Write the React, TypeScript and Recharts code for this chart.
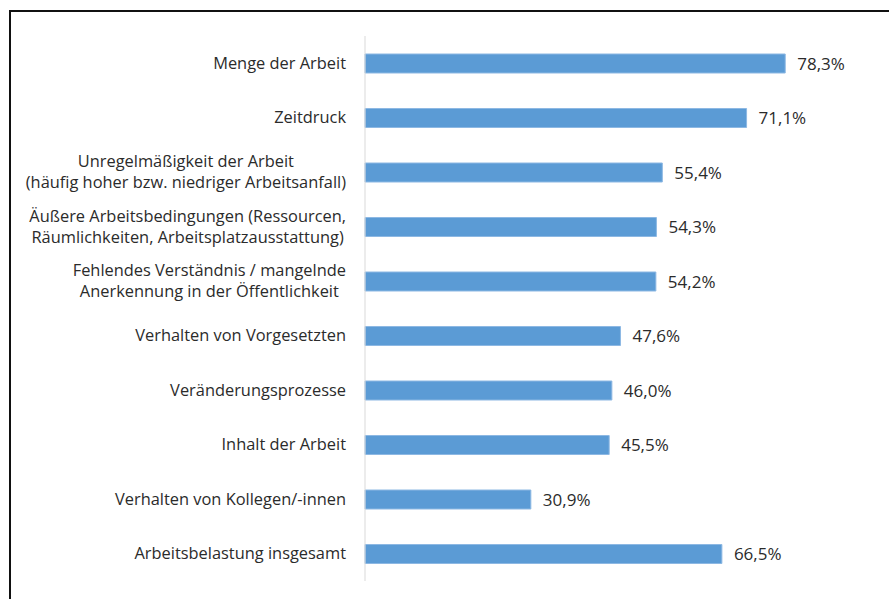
import { Bar, BarChart, LabelList, XAxis, YAxis } from "recharts";

const categories = [
  ["Menge der Arbeit"],
  ["Zeitdruck"],
  ["Unregelmäßigkeit der Arbeit", "(häufig hoher bzw. niedriger Arbeitsanfall)"],
  ["Äußere Arbeitsbedingungen (Ressourcen,", "Räumlichkeiten, Arbeitsplatzausstattung)"],
  ["Fehlendes Verständnis / mangelnde", "Anerkennung in der Öffentlichkeit"],
  ["Verhalten von Vorgesetzten"],
  ["Veränderungsprozesse"],
  ["Inhalt der Arbeit"],
  ["Verhalten von Kollegen/-innen"],
  ["Arbeitsbelastung insgesamt"],
];

const shares = [78.3, 71.1, 55.4, 54.3, 54.2, 47.6, 46.0, 45.5, 30.9, 66.5];

const data = categories.map((lines, i) => ({
  name: lines.join("\n"),
  value: shares[i],
}));

const FONT = "'Open Sans', Lato, sans-serif";
const FONT_SIZE = 16.4;
const VALUE_SIZE = 17;
const TEXT = "#2b2b2b";

let ctx: CanvasRenderingContext2D | null = null;
function textWidth(s: string) {
  if (!ctx) ctx = document.createElement("canvas").getContext("2d");
  if (!ctx) return s.length * FONT_SIZE * 0.5;
  ctx.font = `${FONT_SIZE}px ${FONT}`;
  return ctx.measureText(s).width;
}

function CategoryTick({ x, y, payload }: any) {
  const lines: string[] = String(payload.value).split("\n");
  const right = x - 11;
  const block = Math.max(...lines.map(textWidth));
  const cx = right - block / 2;
  const lineH = 21;
  const first = -((lines.length - 1) * lineH) / 2;
  return (
    <text
      x={cx}
      y={y}
      textAnchor="middle"
      fill={TEXT}
      fontSize={FONT_SIZE}
      fontFamily={FONT}
    >
      {lines.map((l, i) => (
        <tspan key={i} x={cx} y={y + first + i * lineH} dy="0.35em">
          {l}
        </tspan>
      ))}
    </text>
  );
}

export default function App() {
  return (
    <div
      style={{
        position: "absolute",
        left: 0,
        top: 0,
        width: 889,
        height: 599,
        overflow: "hidden",
        background: "#fff",
      }}
    >
      <div
        style={{
          position: "absolute",
          left: 9,
          top: 10,
          width: 1000,
          height: 1000,
          border: "2px solid #111",
        }}
      />
      <div style={{ position: "absolute", left: 0, top: 0 }}>
        <BarChart
          width={889}
          height={599}
          data={data}
          layout="vertical"
          margin={{ top: 36, right: 41, bottom: 18, left: 0 }}
        >
          <XAxis type="number" domain={[0, 90]} hide />
          <YAxis
            type="category"
            dataKey="name"
            width={365}
            axisLine={{ stroke: "#d9d9d9", strokeWidth: 1 }}
            tickLine={false}
            interval={0}
            tick={<CategoryTick />}
          />
          <Bar
            dataKey="value"
            fill="#5b9bd5"
            stroke="#8db8e3"
            strokeWidth={1}
            barSize={19}
            isAnimationActive={false}
          >
            <LabelList
              dataKey="value"
              position="right"
              offset={12}
              fill={TEXT}
              fontSize={VALUE_SIZE}
              fontFamily={FONT}
              formatter={(v: any) => `${Number(v).toFixed(1).replace(".", ",")}%`}
            />
          </Bar>
        </BarChart>
      </div>
    </div>
  );
}
